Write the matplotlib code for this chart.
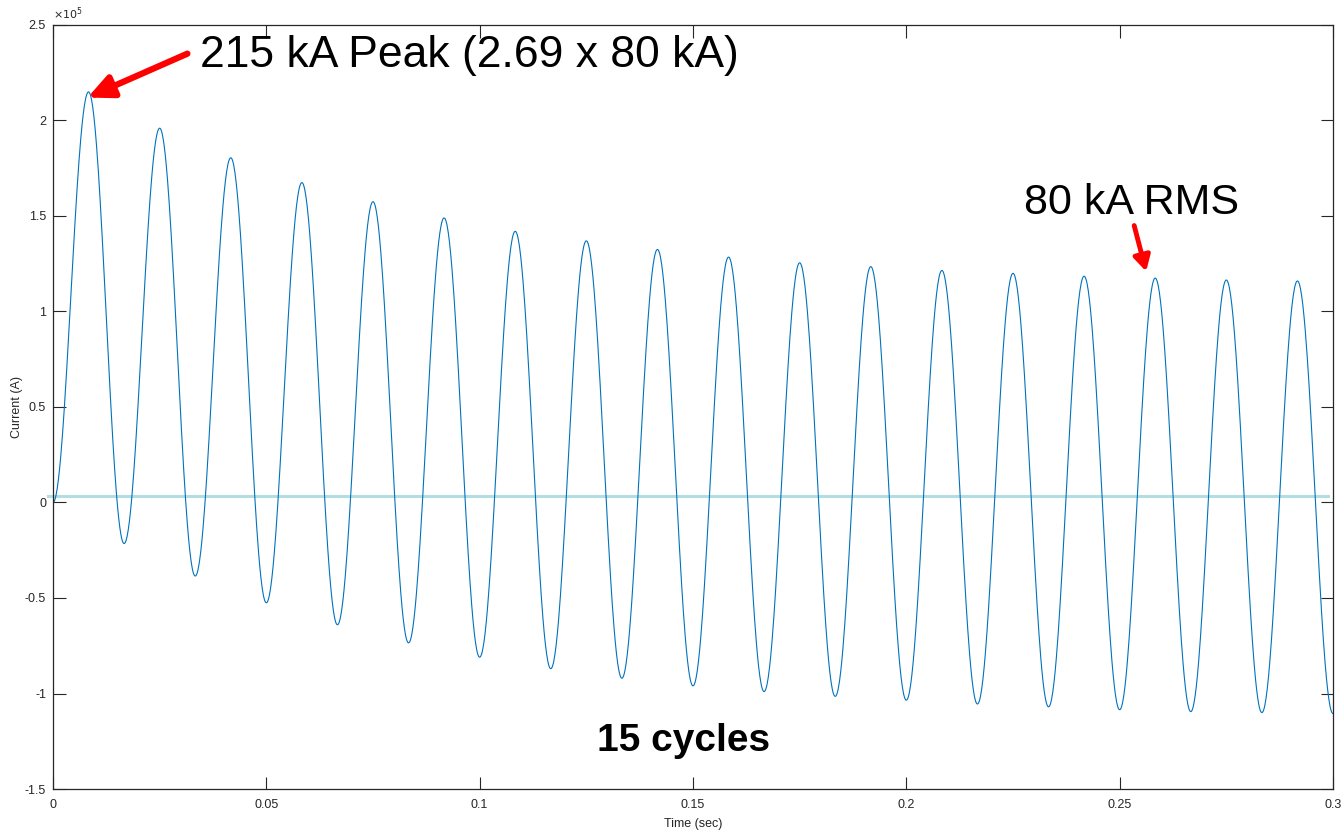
import numpy as np
import matplotlib.pyplot as plt

plt.rcParams['font.family'] = ['Liberation Sans', 'DejaVu Sans']

# supply frequency (Hz): one extremum every half cycle
freq = 60

# peak and trough values (A)
peaks = [215000, 196000, 180500, 167500, 157500, 149000, 142000, 137000, 132500,
         128500, 125500, 123500, 121500, 120000, 118500, 117500, 116500, 116000]
troughs = [-21500, -38500, -52500, -64000, -73500, -81000, -87000, -92000, -96000,
           -99000, -101500, -103500, -105500, -107000, -108500, -109500, -110000, -110500]
start_value = 0
ref_level = 3200

xticks = [0, 0.05, 0.1, 0.15, 0.2, 0.25, 0.3]
xticklabels = ['0', '0.05', '0.1', '0.15', '0.2', '0.25', '0.3']
yticks = [-1.5e5, -1e5, -0.5e5, 0, 0.5e5, 1e5, 1.5e5, 2e5, 2.5e5]
yticklabels = ['-1.5', '-1', '-0.5', '0', '0.5', '1', '1.5', '2', '2.5']

# extrema in time order: start, peak, trough, peak, ...
ext_v = [start_value]
for p, tr in zip(peaks, troughs):
    ext_v += [p, tr]
ext_t = np.arange(len(ext_v)) / (2 * freq)

# draw each half cycle as a half-cosine between consecutive extrema
t_all, v_all = [], []
s = np.linspace(0, 1, 60)
for i in range(len(ext_v) - 1):
    t_all.append(ext_t[i] + (ext_t[i + 1] - ext_t[i]) * s)
    v_all.append(ext_v[i] + (ext_v[i + 1] - ext_v[i]) * (1 - np.cos(np.pi * s)) / 2)
t_all = np.concatenate(t_all)
v_all = np.concatenate(v_all)

fig = plt.figure(figsize=(13.44, 8.33), dpi=100)
ax = fig.add_axes([53 / 1344, 1 - 789 / 833, 1280 / 1344, 764 / 833])

ax.plot([-0.0012, 0.2988], [ref_level, ref_level], color='#b3dde2', lw=2.2,
        clip_on=False, zorder=1)
ax.plot(t_all, v_all, color='#0072BD', lw=0.8, zorder=2)

ax.set_xlim(0, 0.3)
ax.set_ylim(-1.5e5, 2.5e5)
ax.set_xticks(xticks)
ax.set_xticklabels(xticklabels)
ax.set_yticks(yticks)
ax.set_yticklabels(yticklabels)
ax.tick_params(direction='in', length=9, width=0.8, top=True, right=True,
               labelsize=9, labelcolor='#262626', color='#262626')
ax.tick_params(axis='x', pad=7)
ax.tick_params(axis='y', pad=5)
for sp in ax.spines.values():
    sp.set_color('#262626')
    sp.set_linewidth(0.9)

ax.text(0.0, 1.004, r'$\times 10^5$', transform=ax.transAxes, fontsize=8,
        color='#262626', ha='left', va='bottom')
ax.set_xlabel('Time (sec)', fontsize=9, color='#262626', labelpad=5)
ax.set_ylabel('Current (A)', fontsize=9, color='#262626', labelpad=1)

ax.annotate('', xy=(0.0081, 2.12e5), xytext=(0.0315, 2.35e5),
            arrowprops=dict(arrowstyle='-|>,head_length=1.5,head_width=0.7',
                            color='#ff0000', lw=4.5, shrinkA=0, shrinkB=0))
ax.text(0.0345, 2.34e5, '215 kA Peak (2.69 x 80 kA)', fontsize=32,
        ha='left', va='center')

ax.annotate('', xy=(0.2562, 1.21e5), xytext=(0.2534, 1.45e5),
            arrowprops=dict(arrowstyle='-|>,head_length=0.9,head_width=0.5',
                            color='#ff0000', lw=3.5, shrinkA=0, shrinkB=0))
ax.text(0.2527, 1.465e5, '80 kA RMS', fontsize=31, ha='center', va='bottom')

ax.text(0.1477, -1.25e5, '15 cycles', fontsize=28, fontweight='bold',
        ha='center', va='center')

fig.savefig('out.png', dpi=100)
